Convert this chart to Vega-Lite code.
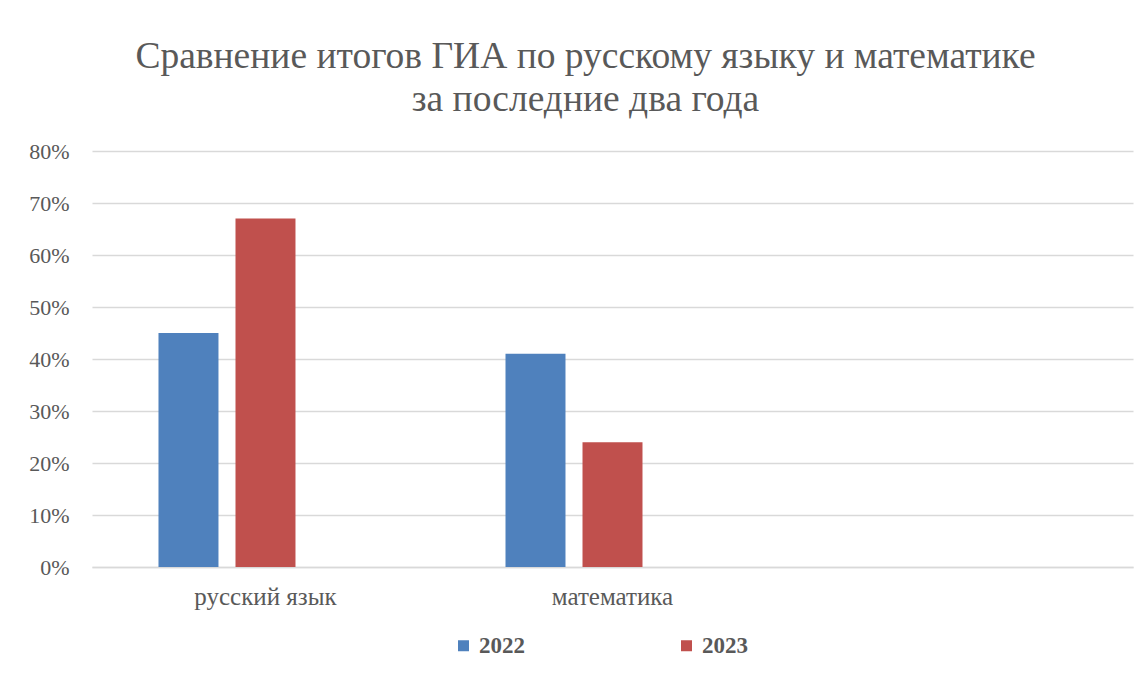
{
  "$schema": "https://vega.github.io/schema/vega-lite/v6.json",
  "autosize": "none",
  "width": 1041,
  "height": 416,
  "padding": {"left": 92, "top": 151, "right": 14, "bottom": 110},
  "background": "white",
  "title": {
    "text": ["Сравнение итогов ГИА по русскому языку и математике", "за последние два года"],
    "anchor": "middle",
    "dx": -27,
    "offset": 22,
    "font": "Liberation Serif",
    "fontSize": 37.5,
    "fontWeight": "normal",
    "color": "#595959",
    "lineHeight": 43
  },
  "config": {
    "view": {"stroke": null}
  },
  "data": {
    "values": [
      {"subject": "русский язык", "year": "2022", "value": 0.45},
      {"subject": "русский язык", "year": "2023", "value": 0.67},
      {"subject": "математика", "year": "2022", "value": 0.41},
      {"subject": "математика", "year": "2023", "value": 0.24}
    ]
  },
  "mark": {"type": "bar"},
  "encoding": {
    "x": {
      "field": "subject",
      "type": "nominal",
      "sort": null,
      "scale": {"domain": ["русский язык", "математика", " "], "paddingInner": 0.3833, "paddingOuter": 0.1916},
      "axis": {
        "title": null,
        "labelAngle": 0,
        "labelFont": "Liberation Serif",
        "labelFontSize": 25,
        "labelColor": "#595959",
        "labelPadding": 17,
        "ticks": false,
        "domainColor": "#d9d9d9",
        "domainWidth": 1.5,
        "grid": false
      }
    },
    "xOffset": {
      "field": "year",
      "type": "nominal",
      "scale": {"domain": ["2022", "2023", "3"], "paddingInner": 0.221, "paddingOuter": 0}
    },
    "y": {
      "field": "value",
      "type": "quantitative",
      "scale": {"domain": [0, 0.8], "nice": false},
      "axis": {
        "title": null,
        "format": ".0%",
        "values": [0, 0.1, 0.2, 0.3, 0.4, 0.5, 0.6, 0.7, 0.8],
        "labelFont": "Liberation Serif",
        "labelFontSize": 22,
        "labelColor": "#595959",
        "labelPadding": 23,
        "ticks": false,
        "domain": false,
        "gridColor": "#d9d9d9",
        "gridWidth": 1.5
      }
    },
    "color": {
      "field": "year",
      "type": "nominal",
      "scale": {"domain": ["2022", "2023"], "range": ["#4f81bd", "#c0504d"]},
      "legend": {
        "title": null,
        "orient": "none",
        "legendX": 360,
        "legendY": 483,
        "direction": "horizontal",
        "symbolType": "square",
        "symbolSize": 121,
        "symbolStrokeWidth": 0,
        "labelFont": "Liberation Serif",
        "labelFontSize": 23,
        "labelFontWeight": "bold",
        "labelColor": "#595959",
        "labelOffset": 4,
        "columnPadding": 150
      }
    }
  }
}
